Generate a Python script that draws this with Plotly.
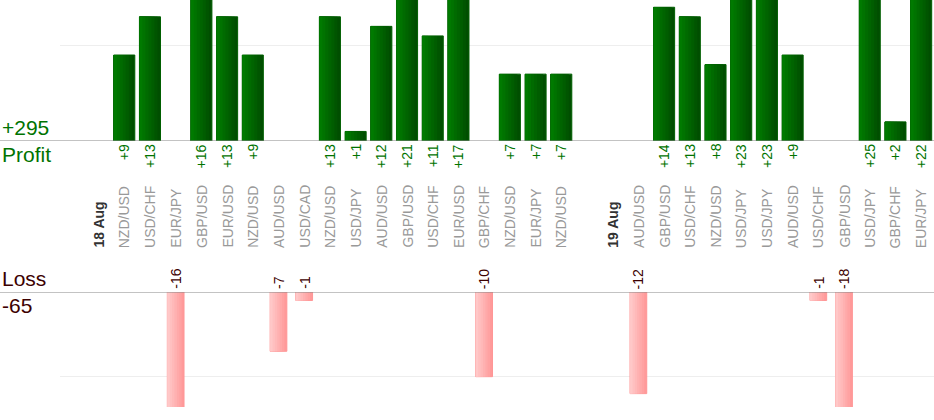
import plotly.graph_objects as go

# Slots along the x axis: "" is an empty slot, dates mark the start of a day
slots = ["", "18 Aug", "NZD/USD", "USD/CHF", "EUR/JPY", "GBP/USD", "EUR/USD", "NZD/USD",
         "AUD/USD", "USD/CAD", "NZD/USD", "USD/JPY", "AUD/USD", "GBP/USD", "USD/CHF",
         "EUR/USD", "GBP/CHF", "NZD/USD", "EUR/JPY", "NZD/USD", "", "19 Aug", "AUD/USD",
         "GBP/USD", "USD/CHF", "NZD/USD", "USD/JPY", "USD/JPY", "AUD/USD", "USD/CHF",
         "GBP/USD", "USD/JPY", "GBP/CHF", "EUR/JPY"]
dates = ["18 Aug", "19 Aug"]

# Profit / loss per slot (None = no trade of that kind)
profit = [None, None, 9, 13, None, 16, 13, 9, None, None, 13, 1, 12, 21, 11, 17, None,
          7, 7, 7, None, None, None, 14, 13, 8, 23, 23, 9, None, None, 25, 2, 22]
loss = [None, None, None, None, -16, None, None, None, -7, -1, None, None, None, None,
        None, None, -10, None, None, None, None, None, -12, None, None, None, None, None,
        None, -1, -18, None, None, None]

xs = list(range(len(slots)))
font_family = "Arial, Liberation Sans, sans-serif"
green_txt = "rgb(0,115,0)"
loss_txt = "rgb(60,0,0)"


def mix(c1, c2, t):
    return "rgb(%d,%d,%d)" % tuple(round(a + (b - a) * t) for a, b in zip(c1, c2))


fig = go.Figure()

# Bars with a left-to-right shading made of overlaid, narrower bars
steps = 7
pw, lw = 0.82, 0.65
for k in range(steps):
    t = k / (steps - 1)
    fig.add_trace(go.Bar(
        x=xs, y=profit, xaxis="x", yaxis="y",
        width=pw * (1 - k / steps), offset=-pw / 2,
        marker=dict(color=mix((0, 78, 0), (0, 122, 0), t),
                    line=dict(color="rgb(0,95,0)", width=1 if k == 0 else 0)),
        hoverinfo="skip", showlegend=False,
    ))
    fig.add_trace(go.Bar(
        x=xs, y=loss, xaxis="x2", yaxis="y2",
        width=lw * (1 - k / steps), offset=-lw / 2,
        marker=dict(color=mix((255, 154, 154), (255, 200, 200), t),
                    line=dict(color="rgb(255,150,150)", width=1 if k == 0 else 0)),
        hoverinfo="skip", showlegend=False,
    ))

annotations = []
# pair labels and day labels
for i, s in enumerate(slots):
    if not s:
        continue
    is_date = s in dates
    annotations.append(dict(
        x=i, xref="x", y=1 - 250 / 420, yref="paper", yanchor="bottom",
        text="<b>%s</b>" % s if is_date else s, textangle=-90, showarrow=False,
        font=dict(size=14, color="#333333" if is_date else "#999999", family=font_family),
    ))
# value labels
for i, v in enumerate(profit):
    if v is not None:
        annotations.append(dict(
            x=i, xref="x", y=0, yref="y", yanchor="top", yshift=-1,
            text="+%d" % v, textangle=-90, showarrow=False,
            font=dict(size=14, color=green_txt, family=font_family),
        ))
for i, v in enumerate(loss):
    if v is not None:
        annotations.append(dict(
            x=i, xref="x2", y=0, yref="y2", yanchor="bottom", yshift=1,
            text="%d" % v, textangle=-90, showarrow=False,
            font=dict(size=14, color=loss_txt, family=font_family),
        ))

# totals at the left
total_profit = sum(v for v in profit if v is not None)
total_loss = sum(v for v in loss if v is not None)
for txt, yref, anchor, color in [("+%d" % total_profit, "y", "bottom", green_txt),
                                 ("Profit", "y", "top", green_txt),
                                 ("Loss", "y2", "bottom", loss_txt),
                                 ("%d" % total_loss, "y2", "top", loss_txt)]:
    annotations.append(dict(
        x=0, xref="paper", xanchor="left", xshift=-60, y=0, yref=yref, yanchor=anchor,
        text=txt, showarrow=False, font=dict(size=21, color=color, family=font_family),
    ))

shapes = [dict(type="line", xref="paper", x0=-0.07, x1=1, yref=r, y0=0, y1=0,
               line=dict(color="#888888", width=1.2)) for r in ("y", "y2")]

fig.update_layout(
    width=934, height=420,
    margin=dict(l=60, r=0, t=0, b=0),
    paper_bgcolor="white", plot_bgcolor="white",
    barmode="overlay",
    font=dict(family=font_family),
    xaxis=dict(domain=[0, 1], range=[-0.5, len(slots) - 0.5], visible=False),
    xaxis2=dict(domain=[0, 1], range=[-0.5, len(slots) - 0.5], visible=False, matches="x"),
    yaxis=dict(domain=[1 - 141 / 420, 1], range=[0, 14.76], tickvals=[10],
               showticklabels=False, gridcolor="#eeeeee", zeroline=False),
    yaxis2=dict(domain=[1 - 407 / 420, 1 - 292 / 420], range=[-13.58, 0], tickvals=[-10],
                showticklabels=False, gridcolor="#eeeeee", zeroline=False),
    annotations=annotations,
    shapes=shapes,
)

fig.write_html("out.html", config={"displayModeBar": False},
               post_script="document.body.style.margin='0';")
